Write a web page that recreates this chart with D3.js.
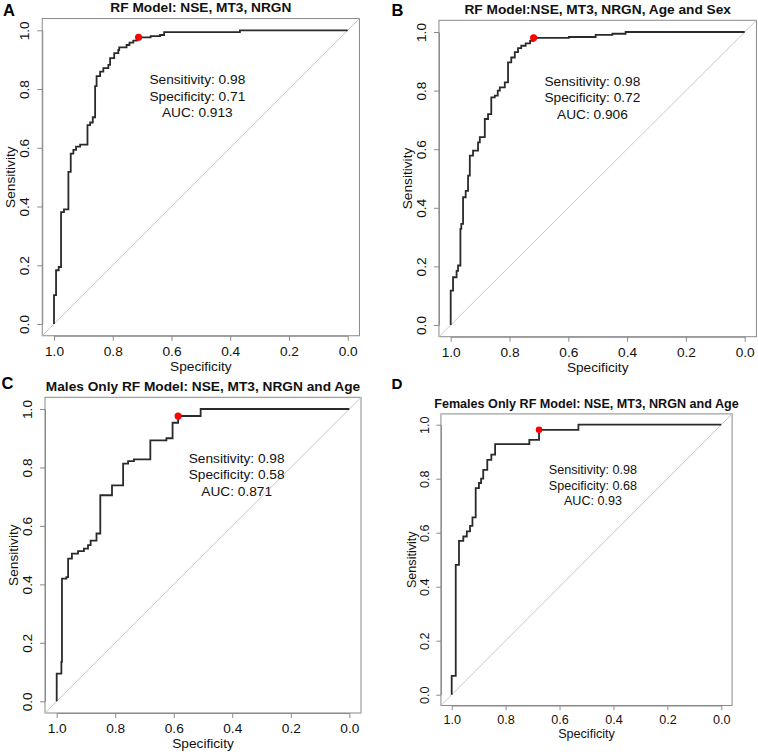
<!DOCTYPE html>
<html lang="en">
<head>
    <meta charset="UTF-8">
    <title>RF Model ROC Curves</title>
    <script src="https://d3js.org/d3.v7.min.js"></script>
    <style>
        body {
            margin: 0;
            background: #fff;
            font-family: "Liberation Sans", Arial, sans-serif;
        }
    </style>
</head>
<body>

<div id="chart"></div>

<script>
// Panel titles and letters
const panelLetters = ["A", "B", "C", "D"];
const panelTitles = [
    "RF Model: NSE, MT3, NRGN",
    "RF Model:NSE, MT3, NRGN, Age and Sex",
    "Males Only RF Model: NSE, MT3, NRGN and Age",
    "Females Only RF Model: NSE, MT3, NRGN and Age"
];

// Axis ticks
const tickValues = [1.0, 0.8, 0.6, 0.4, 0.2, 0.0];
const sensTicks = [0.0, 0.2, 0.4, 0.6, 0.8, 1.0];

// ROC curves: specificity at each vertical step, sensitivity at its top
const specA = [1.000, 1.000, 0.993, 0.984, 0.976, 0.966, 0.951, 0.943, 0.934, 0.925, 0.911,
    0.886, 0.877, 0.868, 0.860, 0.855, 0.843, 0.832, 0.815, 0.809, 0.795, 0.781, 0.778,
    0.753, 0.743, 0.730, 0.718, 0.712, 0.671, 0.639, 0.625, 0.367, 0.000];
const sensA = [0.000, 0.098, 0.183, 0.194, 0.381, 0.390, 0.518, 0.580, 0.593, 0.604, 0.611,
    0.677, 0.686, 0.704, 0.810, 0.844, 0.859, 0.871, 0.882, 0.905, 0.922, 0.933, 0.942,
    0.950, 0.958, 0.965, 0.972, 0.976, 0.980, 0.984, 0.994, 1.000, 1.000];

const specB = [1.000, 1.000, 0.992, 0.980, 0.975, 0.967, 0.964, 0.958, 0.949, 0.941, 0.935,
    0.924, 0.907, 0.901, 0.884, 0.873, 0.862, 0.850, 0.840, 0.833, 0.816, 0.805, 0.794,
    0.782, 0.771, 0.760, 0.745, 0.730, 0.718, 0.598, 0.507, 0.450, 0.405, 0.000];
const sensB = [0.000, 0.117, 0.163, 0.185, 0.203, 0.328, 0.345, 0.436, 0.458, 0.510, 0.578,
    0.595, 0.623, 0.641, 0.703, 0.720, 0.777, 0.783, 0.800, 0.811, 0.828, 0.896, 0.913,
    0.931, 0.945, 0.953, 0.961, 0.970, 0.980, 0.983, 0.990, 0.994, 1.000, 1.000];

const specC = [1.000, 1.000, 0.984, 0.982, 0.967, 0.961, 0.948, 0.927, 0.907, 0.893, 0.884,
    0.864, 0.851, 0.811, 0.773, 0.756, 0.736, 0.680, 0.625, 0.604, 0.585, 0.508, 0.000];
const sensC = [0.000, 0.095, 0.135, 0.420, 0.425, 0.488, 0.505, 0.514, 0.522, 0.534, 0.550,
    0.574, 0.705, 0.739, 0.813, 0.822, 0.828, 0.893, 0.900, 0.953, 0.976, 1.000, 1.000];

const specD = [1.000, 1.000, 0.985, 0.973, 0.957, 0.944, 0.932, 0.923, 0.911, 0.899, 0.891,
    0.883, 0.868, 0.853, 0.839, 0.712, 0.676, 0.530, 0.000];
const sensD = [0.000, 0.070, 0.481, 0.570, 0.586, 0.605, 0.625, 0.657, 0.765, 0.784, 0.800,
    0.833, 0.870, 0.889, 0.928, 0.944, 0.981, 1.000, 1.000];

// Best threshold points
const thrSpec = [0.712, 0.718, 0.585, 0.676];
const thrSens = [0.976, 0.980, 0.976, 0.981];

// Annotation text values
const sensLabels = ["0.98", "0.98", "0.98", "0.98"];
const specLabels = ["0.71", "0.72", "0.58", "0.68"];
const aucLabels = ["0.913", "0.906", "0.871", "0.93"];

const curves = [
    d3.zip(specA, sensA),
    d3.zip(specB, sensB),
    d3.zip(specC, sensC),
    d3.zip(specD, sensD)
];

// Pixel layout of each panel: where specificity 1 / 0 and sensitivity 1 / 0 fall
const layout = [
    { xL: 54,    xR: 347.7, yT: 30.3,  yB: 324,   k: 1,    lx: 3,     ly: 15.5 },
    { xL: 450.7, xR: 744.7, yT: 32,    yB: 325,   k: 1,    lx: 391.5, ly: 15.5 },
    { xL: 56.7,  xR: 349.3, yT: 409,   yB: 701.3, k: 1,    lx: 1.5,   ly: 388.5 },
    { xL: 451.7, xR: 721.3, yT: 424.7, yB: 694.7, k: 0.92, lx: 391.5, ly: 389 }
];

const svg = d3.select("#chart")
    .append("svg")
    .attr("width", 758)
    .attr("height", 756)
    .style("font-family", "'Liberation Sans', Arial, sans-serif");

const fmt = d3.format(".1f");

layout.forEach((p, i) => {
    const k = p.k;
    const fs = 13.7 * k;
    const x = d3.scaleLinear().domain([1, 0]).range([p.xL, p.xR]);
    const y = d3.scaleLinear().domain([0, 1]).range([p.yB, p.yT]);
    const g = svg.append("g");

    // plot box (R style 4% padding)
    const bx0 = x(1.04), bx1 = x(-0.04), by0 = y(1.04), by1 = y(-0.04);
    g.append("rect")
        .attr("x", bx0).attr("y", by0)
        .attr("width", bx1 - bx0).attr("height", by1 - by0)
        .attr("fill", "none")
        .attr("stroke", "#8a8a8a")
        .attr("stroke-width", 1);

    // chance diagonal
    g.append("line")
        .attr("x1", x(1.04)).attr("y1", y(-0.04))
        .attr("x2", x(-0.04)).attr("y2", y(1.04))
        .attr("stroke", "#c8c8c8")
        .attr("stroke-width", 1);

    // x axis
    const xAxis = g.append("g")
        .attr("transform", `translate(0,${by1})`)
        .call(d3.axisBottom(x).tickValues(tickValues).tickFormat(fmt)
            .tickSize(5 * k).tickSizeOuter(0));
    xAxis.select(".domain").attr("stroke", "#8a8a8a");
    xAxis.selectAll(".tick line").attr("stroke", "#8a8a8a");
    xAxis.selectAll("text")
        .attr("y", 20.3 * k)
        .attr("dy", null)
        .attr("fill", "#111")
        .style("font-size", fs + "px")
        .style("font-family", "'Liberation Sans', Arial, sans-serif");

    // y axis with rotated labels
    const yAxis = g.append("g")
        .attr("transform", `translate(${bx0},0)`)
        .call(d3.axisLeft(y).tickValues(sensTicks).tickFormat(fmt)
            .tickSize(5 * k).tickSizeOuter(0));
    yAxis.select(".domain").attr("stroke", "#8a8a8a");
    yAxis.selectAll(".tick line").attr("stroke", "#8a8a8a");
    yAxis.selectAll("text")
        .attr("x", 0)
        .attr("y", -13.4 * k)
        .attr("dy", null)
        .attr("transform", "rotate(-90)")
        .attr("text-anchor", "middle")
        .attr("fill", "#111")
        .style("font-size", fs + "px")
        .style("font-family", "'Liberation Sans', Arial, sans-serif");

    // axis titles
    g.append("text")
        .attr("x", (bx0 + bx1) / 2)
        .attr("y", by1 + 35 * k)
        .attr("text-anchor", "middle")
        .style("font-size", fs + "px")
        .attr("fill", "#111")
        .text("Specificity");

    g.append("text")
        .attr("transform", `translate(${bx0 - 27 * k},${(by0 + by1) / 2}) rotate(-90)`)
        .attr("text-anchor", "middle")
        .style("font-size", fs + "px")
        .attr("fill", "#111")
        .text("Sensitivity");

    // title and panel letter
    g.append("text")
        .attr("x", (bx0 + bx1) / 2)
        .attr("y", by0 - 6.5 * k)
        .attr("text-anchor", "middle")
        .style("font-size", fs + "px")
        .style("font-weight", "bold")
        .attr("fill", "#111")
        .text(panelTitles[i]);

    g.append("text")
        .attr("x", p.lx)
        .attr("y", p.ly)
        .style("font-size", (16.5 * k) + "px")
        .style("font-weight", "bold")
        .attr("fill", "#000")
        .text(panelLetters[i]);

    // ROC curve
    const line = d3.line()
        .x(d => x(d[0]))
        .y(d => y(d[1]))
        .curve(d3.curveStepAfter);

    g.append("path")
        .datum(curves[i])
        .attr("d", line)
        .attr("fill", "none")
        .attr("stroke", "#2a2a2a")
        .attr("stroke-width", 1.8);

    // best threshold
    g.append("circle")
        .attr("cx", x(thrSpec[i]))
        .attr("cy", y(thrSens[i]))
        .attr("r", 3.6 * k)
        .attr("fill", "#ff0000");

    // annotation text
    const ax = x(thrSpec[i] - 0.2);
    const ay = y(0.816);
    const lines = [
        "Sensitivity: " + sensLabels[i],
        "Specificity: " + specLabels[i],
        "AUC: " + aucLabels[i]
    ];
    g.selectAll(".note")
        .data(lines)
        .join("text")
        .attr("class", "note")
        .attr("x", ax)
        .attr("y", (d, j) => ay + j * 16.5 * k)
        .attr("text-anchor", "middle")
        .style("font-size", fs + "px")
        .attr("fill", "#111")
        .text(d => d);
});
</script>

</body>
</html>
